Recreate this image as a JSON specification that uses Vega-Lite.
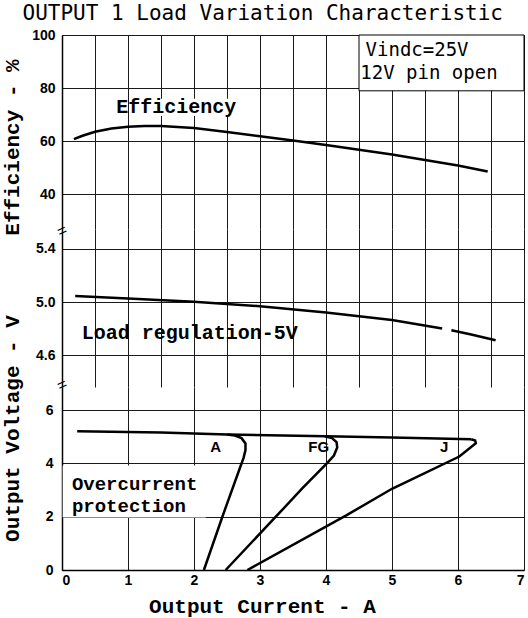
{
  "$schema": "https://vega.github.io/schema/vega-lite/v6.json",
  "padding": {"left": 0, "top": 3, "right": 0, "bottom": 14},
  "background": "white",
  "bounds": "flush",
  "spacing": 0,
  "title": {"text": "OUTPUT 1 Load Variation Characteristic", "font": "DejaVu Sans Mono", "fontSize": 21, "fontWeight": "normal", "color": "#000", "anchor": "middle", "offset": 4},
  "config": {
    "view": {"stroke": null},
    "axis": {"gridColor": "#1a1a1a", "gridWidth": 1, "gridOpacity": 1, "domainColor": "#000", "domainWidth": 1.5, "ticks": false, "labelFont": "Liberation Sans", "labelFontWeight": "bold", "labelFontSize": 14, "labelColor": "#000", "titleFont": "Liberation Mono", "titleFontWeight": "bold", "titleFontSize": 21, "titleColor": "#000"},
    "text": {"font": "Liberation Mono", "fontWeight": "bold", "fontSize": 20, "color": "#000"},
    "line": {"color": "#000", "strokeWidth": 2.5}
  },
  "vconcat": [
    {
      "width": 462,
      "height": 194,
      "encoding": {
        "x": {"field": "x", "type": "quantitative", "scale": {"domain": [0, 7], "nice": false}, "axis": {"values": [0, 0.5, 1, 1.5, 2, 2.5, 3, 3.5, 4, 4.5, 5, 5.5, 6, 6.5, 7], "labels": false, "domain": false, "title": null}},
        "y": {"field": "y", "type": "quantitative", "scale": {"domain": [27, 100], "nice": false}, "axis": {"values": [40, 60, 80, 100], "title": "Efficiency - %", "titleX": -40, "titleY": 112, "labelPadding": 7}}
      },
      "layer": [
        {
          "data": {"values": [
            {"x": 0.18, "y": 60.8}, {"x": 0.3, "y": 62.0}, {"x": 0.5, "y": 63.6}, {"x": 0.75, "y": 64.8}, {"x": 1.0, "y": 65.5}, {"x": 1.25, "y": 65.8}, {"x": 1.5, "y": 65.8}, {"x": 2.0, "y": 65.0}, {"x": 2.5, "y": 63.5}, {"x": 3.0, "y": 61.9}, {"x": 3.5, "y": 60.3}, {"x": 4.0, "y": 58.6}, {"x": 4.5, "y": 56.8}, {"x": 5.0, "y": 55.0}, {"x": 5.5, "y": 53.0}, {"x": 6.0, "y": 50.9}, {"x": 6.45, "y": 48.6}
          ]},
          "mark": {"type": "line"}
        },
        {
          "data": {"values": [{"x": 4.5, "x2": 7, "y": 79, "y2": 100}]},
          "mark": {"type": "rect", "fill": "white", "stroke": "#000", "strokeWidth": 1},
          "encoding": {"x2": {"field": "x2"}, "y2": {"field": "y2"}}
        },
        {
          "data": {"values": [{"x": 1.2, "x2": 2.6, "y": 69.5, "y2": 76}]},
          "mark": {"type": "rect", "fill": "white"},
          "encoding": {"x2": {"field": "x2"}, "y2": {"field": "y2"}}
        },
        {
          "data": {"values": [{"x": 1.73, "y": 72.8, "t": "Efficiency"}]},
          "mark": {"type": "text", "align": "center", "baseline": "middle"},
          "encoding": {"text": {"field": "t"}}
        },
        {
          "data": {"values": [{"x": 4.6, "y": 94.3, "t": "Vindc=25V"}, {"x": 4.52, "y": 85.7, "t": "12V pin open"}]},
          "mark": {"type": "text", "align": "left", "baseline": "middle", "font": "DejaVu Sans Mono", "fontWeight": "normal", "fontSize": 19},
          "encoding": {"text": {"field": "t"}}
        }
      ]
    },
    {
      "width": 462,
      "height": 158,
      "encoding": {
        "x": {"field": "x", "type": "quantitative", "scale": {"domain": [0, 7], "nice": false}, "axis": {"values": [0, 0.5, 1, 1.5, 2, 2.5, 3, 3.5, 4, 4.5, 5, 5.5, 6, 6.5, 7], "labels": false, "domain": false, "title": null}},
        "y": {"field": "y", "type": "quantitative", "scale": {"domain": [4.36, 5.55], "nice": false}, "axis": {"values": [4.6, 5.0, 5.4], "format": ".1f", "title": null, "labelPadding": 7}}
      },
      "layer": [
        {
          "data": {"values": [
            {"s": 1, "x": 0.2, "y": 5.045}, {"s": 1, "x": 1.0, "y": 5.027}, {"s": 1, "x": 2.0, "y": 5.003}, {"s": 1, "x": 3.0, "y": 4.968}, {"s": 1, "x": 4.0, "y": 4.922}, {"s": 1, "x": 5.0, "y": 4.865}, {"s": 1, "x": 5.76, "y": 4.8},
            {"s": 2, "x": 5.9, "y": 4.788}, {"s": 2, "x": 6.2, "y": 4.755}, {"s": 2, "x": 6.57, "y": 4.712}
          ]},
          "mark": {"type": "line"},
          "encoding": {"detail": {"field": "s", "type": "nominal"}}
        },
        {
          "data": {"values": [{"x": 0.3, "y": 4.766, "t": "Load regulation-5V"}]},
          "mark": {"type": "text", "align": "left", "baseline": "middle"},
          "encoding": {"text": {"field": "t"}}
        },
        {
          "data": {"values": [{"x": 0.0, "y": 5.535, "t": "="}, {"x": 0.0, "y": 4.375, "t": "="}]},
          "mark": {"type": "text", "align": "center", "baseline": "middle", "angle": 335, "font": "Liberation Sans", "fontWeight": "normal", "fontSize": 16},
          "encoding": {"text": {"field": "t"}}
        }
      ]
    },
    {
      "width": 462,
      "height": 183,
      "encoding": {
        "x": {"field": "x", "type": "quantitative", "scale": {"domain": [0, 7], "nice": false}, "axis": {"values": [0, 0.5, 1, 1.5, 2, 2.5, 3, 3.5, 4, 4.5, 5, 5.5, 6, 6.5, 7], "format": "d", "labelExpr": "datum.value % 1 === 0 ? datum.label : ''", "labelPadding": 3, "title": "Output Current - A", "titleX": 200, "titleY": 42, "titleAlign": "center", "titleBaseline": "alphabetic"}},
        "y": {"field": "y", "type": "quantitative", "scale": {"domain": [0, 6.87], "nice": false}, "axis": {"values": [0, 2, 4, 6], "title": "Output Voltage - V", "titleX": -40, "titleY": 41, "labelPadding": 9}}
      },
      "layer": [
        {
          "data": {"values": [{"x": 0.01, "x2": 2.18, "y": 1.97, "y2": 3.92}]},
          "mark": {"type": "rect", "fill": "white"},
          "encoding": {"x2": {"field": "x2"}, "y2": {"field": "y2"}}
        },
        {
          "data": {"values": [
            {"c": "main", "i": 1, "x": 0.23, "y": 5.21}, {"c": "main", "i": 2, "x": 1.5, "y": 5.16}, {"c": "main", "i": 3, "x": 2.5, "y": 5.09}, {"c": "main", "i": 4, "x": 4.0, "y": 5.02}, {"c": "main", "i": 5, "x": 5.0, "y": 4.97}, {"c": "main", "i": 6, "x": 6.2, "y": 4.91},
            {"c": "A", "i": 1, "x": 2.5, "y": 5.09}, {"c": "A", "i": 2, "x": 2.62, "y": 5.05}, {"c": "A", "i": 3, "x": 2.72, "y": 4.95}, {"c": "A", "i": 4, "x": 2.78, "y": 4.75}, {"c": "A", "i": 5, "x": 2.78, "y": 4.5}, {"c": "A", "i": 6, "x": 2.75, "y": 4.2}, {"c": "A", "i": 7, "x": 2.72, "y": 4.0}, {"c": "A", "i": 8, "x": 2.43, "y": 2.0}, {"c": "A", "i": 9, "x": 2.15, "y": 0.0},
            {"c": "FG", "i": 1, "x": 3.98, "y": 5.02}, {"c": "FG", "i": 2, "x": 4.09, "y": 4.95}, {"c": "FG", "i": 3, "x": 4.16, "y": 4.8}, {"c": "FG", "i": 4, "x": 4.17, "y": 4.6}, {"c": "FG", "i": 5, "x": 4.12, "y": 4.3}, {"c": "FG", "i": 6, "x": 4.02, "y": 4.02}, {"c": "FG", "i": 7, "x": 3.64, "y": 3.06}, {"c": "FG", "i": 8, "x": 3.24, "y": 2.0}, {"c": "FG", "i": 9, "x": 2.48, "y": 0.0},
            {"c": "J", "i": 1, "x": 6.2, "y": 4.91}, {"c": "J", "i": 2, "x": 6.26, "y": 4.86}, {"c": "J", "i": 3, "x": 6.27, "y": 4.76}, {"c": "J", "i": 4, "x": 6.02, "y": 4.26}, {"c": "J", "i": 5, "x": 5.0, "y": 3.05}, {"c": "J", "i": 6, "x": 4.3, "y": 2.04}, {"c": "J", "i": 7, "x": 2.81, "y": 0.0}
          ]},
          "mark": {"type": "line"},
          "encoding": {"detail": {"field": "c", "type": "nominal"}, "order": {"field": "i", "type": "quantitative"}}
        },
        {
          "data": {"values": [{"x": 2.33, "y": 4.6, "t": "A"}, {"x": 3.89, "y": 4.6, "t": "FG"}, {"x": 5.79, "y": 4.6, "t": "J"}]},
          "mark": {"type": "text", "align": "center", "baseline": "middle", "font": "Liberation Sans", "fontSize": 15},
          "encoding": {"text": {"field": "t"}}
        },
        {
          "data": {"values": [{"x": 0.15, "y": 3.22, "t": "Overcurrent"}, {"x": 0.15, "y": 2.42, "t": "protection"}]},
          "mark": {"type": "text", "align": "left", "baseline": "middle", "fontSize": 19},
          "encoding": {"text": {"field": "t"}}
        }
      ]
    }
  ]
}
